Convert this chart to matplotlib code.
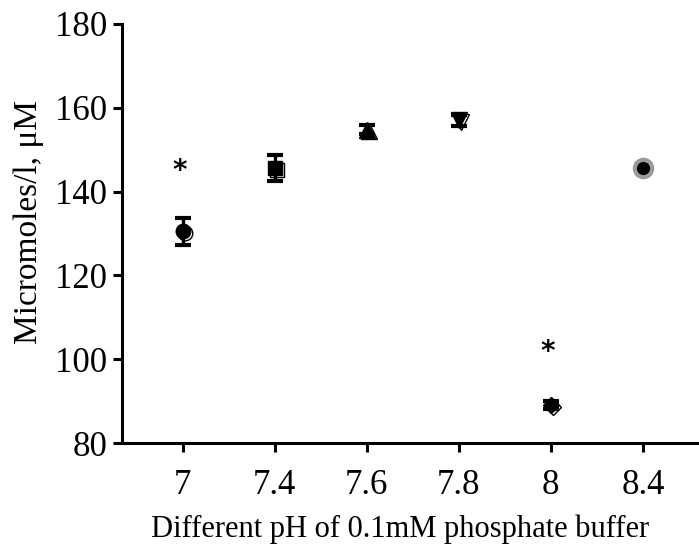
import matplotlib
matplotlib.use("Agg")
import matplotlib.pyplot as plt
import matplotlib.transforms as mtransforms

categories = ['7', '7.4', '7.6', '7.8', '8', '8.4']
means = [130.5, 145.6, 154.8, 157.0, 89.0, 145.6]
errors = [3.3, 3.1, 1.0, 1.3, 1.0, 0.0]
marker_shapes = ['o', 's', '^', 'v', 'D', 'o']
star_values = [145.0, None, None, None, 101.8, None]
y_ticks = [80, 100, 120, 140, 160, 180]

plt.rcParams['font.family'] = ['Liberation Serif', 'DejaVu Serif']

fig = plt.figure(figsize=(6.99, 5.5), dpi=100)
ax = fig.add_axes([122/699, 107/550, 1 - 122/699, (443-24)/550])

xpos = list(range(len(categories)))
shadow = mtransforms.offset_copy(ax.transData, fig=fig, x=2, y=-1.5, units='dots')

sizes = {'o': 10.5, 's': 10.5, '^': 11, 'v': 11, 'D': 8}

for i, (m, e, mk) in enumerate(zip(means, errors, marker_shapes)):
    ms = sizes[mk]
    if i == len(categories) - 1:
        ax.plot([xpos[i]], [m], marker='o', markersize=12.5, markerfacecolor='black',
                markeredgecolor='#9a9a9a', markeredgewidth=3.0, linestyle='none', zorder=4)
        continue
    ax.plot([xpos[i]], [m], marker=mk, markersize=ms, markerfacecolor='white',
            markeredgecolor='black', markeredgewidth=1.0, linestyle='none',
            transform=shadow, zorder=2)
    ax.errorbar([xpos[i]], [m], yerr=[e], fmt=mk, markersize=ms, color='black',
                markerfacecolor='black', markeredgecolor='black', ecolor='black',
                elinewidth=2.4, capsize=5.5, capthick=3.0, zorder=3)

for i, s in enumerate(star_values):
    if s is not None:
        ax.text(xpos[i] - 0.03, s, '*', ha='center', va='center', fontsize=20,
                family='DejaVu Sans', fontweight='bold')

ax.set_xlim(-0.66, 5.61)
ax.set_ylim(80, 180)
ax.set_xticks(xpos)
ax.set_xticklabels(categories)
ax.set_yticks(y_ticks)

for side in ('top', 'right'):
    ax.spines[side].set_visible(False)
for side in ('left', 'bottom'):
    ax.spines[side].set_linewidth(2.2)

ax.tick_params(axis='both', width=2.2, length=6.5, labelsize=25)
ax.tick_params(axis='x', pad=12)
ax.tick_params(axis='y', pad=4)

ax.set_xlabel('Different pH of 0.1mM phosphate buffer', fontsize=22, labelpad=12)
ax.xaxis.set_label_coords(0.482, -0.17)
ax.set_ylabel('Micromoles/l, μM', fontsize=24, labelpad=6)
ax.yaxis.set_label_coords(-0.135, 0.527)

fig.savefig('out.png', dpi=100)
